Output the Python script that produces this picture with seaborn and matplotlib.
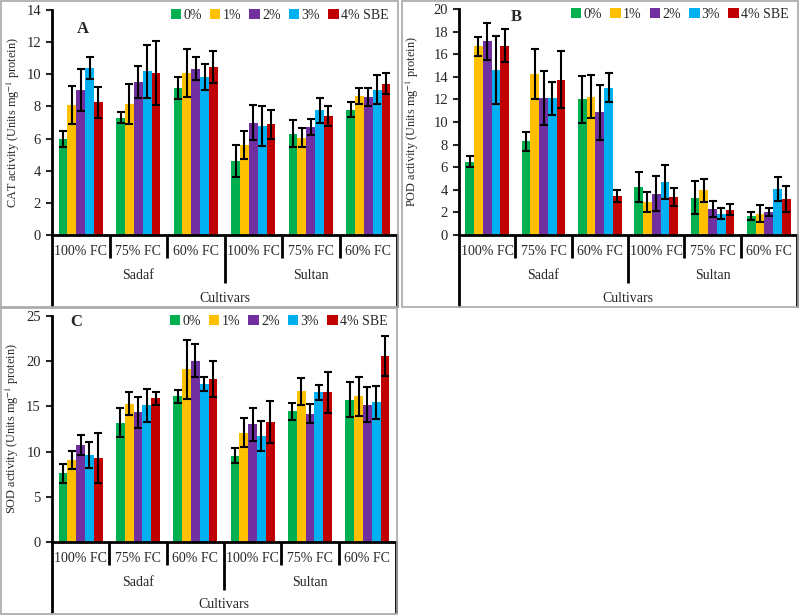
import numpy as np
import pandas as pd
import matplotlib
matplotlib.use("Agg")
import matplotlib.pyplot as plt
import seaborn as sns
from matplotlib.patches import Rectangle

# categories
cultivars = ["Sadaf", "Sultan"]
fc_levels = ["100% FC", "75% FC", "60% FC"]
doses = ["0%", "1%", "2%", "3%", "4% SBE"]
colors = ["#00B050", "#FFC000", "#7030A0", "#00B0F0", "#C00000"]

# rows = dose (0..4% SBE), cols = Sadaf 100/75/60, Sultan 100/75/60
cat_mean = [
    [6.0, 7.3, 9.15, 4.6, 6.3, 7.8],
    [8.1, 8.15, 10.1, 5.6, 6.05, 8.65],
    [9.0, 9.5, 10.35, 7.0, 6.7, 8.6],
    [10.4, 10.2, 9.85, 6.8, 7.75, 9.05],
    [8.25, 10.1, 10.45, 6.9, 7.4, 9.4],
]
cat_sd = [
    [0.5, 0.35, 0.7, 1.0, 0.85, 0.45],
    [1.2, 1.25, 1.5, 0.85, 0.6, 0.5],
    [1.3, 1.0, 0.7, 1.1, 0.5, 0.55],
    [0.7, 1.65, 0.8, 1.25, 0.8, 0.9],
    [0.95, 2.0, 1.0, 0.9, 0.6, 0.65],
]
pod_mean = [
    [6.5, 8.3, 12.0, 4.25, 3.3, 1.65],
    [16.7, 14.25, 12.25, 2.9, 3.95, 1.9],
    [17.15, 12.1, 10.85, 3.65, 2.3, 2.0],
    [14.6, 12.1, 13.05, 4.7, 1.9, 4.05],
    [16.75, 13.75, 3.45, 3.4, 2.25, 3.15],
]
pod_sd = [
    [0.45, 0.85, 2.05, 1.3, 1.45, 0.35],
    [0.85, 2.2, 1.9, 0.9, 1.0, 0.75],
    [1.65, 2.4, 2.45, 1.55, 0.7, 0.35],
    [3.0, 1.45, 1.3, 1.5, 0.45, 1.05],
    [1.45, 2.55, 0.55, 0.8, 0.45, 1.15],
]
sod_mean = [
    [7.6, 13.2, 16.1, 9.55, 14.45, 15.75],
    [9.1, 15.3, 19.1, 12.1, 16.65, 16.1],
    [10.75, 14.35, 20.05, 13.0, 14.2, 15.2],
    [9.6, 15.1, 17.5, 11.7, 16.55, 15.45],
    [9.3, 15.9, 18.05, 13.25, 16.55, 20.6],
]
sod_sd = [
    [1.05, 1.6, 0.75, 0.85, 0.95, 1.9],
    [1.0, 1.3, 3.3, 1.6, 1.5, 2.2],
    [1.1, 1.7, 1.8, 1.8, 1.05, 1.9],
    [1.45, 1.8, 0.8, 1.65, 0.85, 1.85],
    [2.75, 0.7, 2.0, 2.3, 2.25, 2.2],
]

sns.set_style("white")
plt.rcParams["font.family"] = ["Liberation Serif", "DejaVu Serif"]
plt.rcParams["mathtext.fontset"] = "stix"

W, H = 800, 616
fig = plt.figure(figsize=(W / 100, H / 100), dpi=100)

# gray panel frames
for (x0, y0, x1, y1) in [(1, 1, 398, 307), (402, 1, 798, 307), (1, 308, 397, 614)]:
    fig.patches.append(Rectangle((x0 / W, 1 - y1 / H), (x1 - x0) / W, (y1 - y0) / H,
                                 transform=fig.transFigure, fill=False,
                                 edgecolor="#a8a8a8", lw=1.2))

keys = [c + " " + f for c in cultivars for f in fc_levels]


def panel(left, right, top, bottom, pbottom, mean, sd, ymax, step, ylabel,
          letter, lxy, ylab_x):
    ax = fig.add_axes([left / W, 1 - bottom / H, (right - left) / W, (bottom - top) / H])
    hpx = bottom - top
    rows = []
    for d, vals in zip(doses, mean):
        for k, v in zip(keys, vals):
            rows.append({"key": k, "dose": d, "value": v})
    df = pd.DataFrame(rows)
    sns.barplot(data=df, x="key", y="value", hue="dose", order=keys, hue_order=doses,
                palette=colors, width=0.77, gap=0, errorbar=None, ax=ax,
                saturation=1, linewidth=0)
    for cont, errs in zip(ax.containers, sd):
        xs = [p.get_x() + p.get_width() / 2 for p in cont]
        ys = [p.get_height() for p in cont]
        ax.errorbar(xs, ys, yerr=errs, fmt="none", ecolor="black",
                    elinewidth=1.5, capsize=3.2, capthick=1.5, zorder=5)
    ax.set_xlim(-0.5, 5.5)
    ax.set_ylim(0, ymax)
    ax.set_yticks(np.arange(0, ymax + 0.01, step))
    ax.set_xticks([])
    ax.set_xlabel("")
    ax.set_ylabel(ylabel, fontsize=8.8)
    ax.yaxis.set_label_coords(ylab_x, 0.5)
    for s in ["top", "right"]:
        ax.spines[s].set_visible(False)
    ax.spines["left"].set_linewidth(2)
    ax.spines["bottom"].set_linewidth(2)
    ax.spines["left"].set_color("black")
    ax.spines["bottom"].set_color("black")
    ax.tick_params(axis="y", direction="out", length=4, width=1.5, labelsize=10.5,
                   left=True, pad=4)

    # multi-level category axis
    tr = ax.get_xaxis_transform()
    for b in np.arange(-0.5, 6.0, 1.0):
        if b in (-0.5, 5.5):
            depth = pbottom - bottom
        elif b == 2.5:
            depth = 48
        else:
            depth = 23
        ax.plot([b, b], [0, -depth / hpx], transform=tr, color="black", lw=2,
                clip_on=False, solid_capstyle="butt")
    for i, k in enumerate(keys):
        ax.text(i, -16 / hpx, fc_levels[i % 3], transform=tr, ha="center",
                va="center", fontsize=10)
    for j, c in enumerate(cultivars):
        ax.text(1 + 3 * j, -40 / hpx, c, transform=tr, ha="center", va="center",
                fontsize=10)
    ax.text(2.5, -63 / hpx, "Cultivars", transform=tr, ha="center", va="center",
            fontsize=10)

    handles, labels = ax.get_legend_handles_labels()
    ax.legend(handles, labels, ncol=5, loc="center right",
              bbox_to_anchor=(0.975, 0.975), frameon=False, fontsize=10,
              handlelength=0.75, handleheight=0.75, handletextpad=0.15,
              columnspacing=0.6, borderaxespad=0, borderpad=0)
    ax.text(lxy[0], lxy[1], letter, transform=ax.transAxes, fontsize=12,
            fontweight="bold", ha="center", va="center")
    return ax


panel(52, 397, 10, 235, 307, cat_mean, cat_sd, 14, 2,
      "CAT activity (Units mg$^{-1}$ protein)", "A", (0.09, 0.915), -0.087)
panel(459, 797, 9, 235, 307, pod_mean, pod_sd, 20, 2,
      "POD activity (Units mg$^{-1}$ protein)", "B", (0.17, 0.965), -0.112)
panel(52, 396, 316, 542, 613, sod_mean, sod_sd, 25, 5,
      "SOD activity (Units mg$^{-1}$ protein)", "C", (0.07, 0.975), -0.09)

fig.savefig("out.png", dpi=100)
